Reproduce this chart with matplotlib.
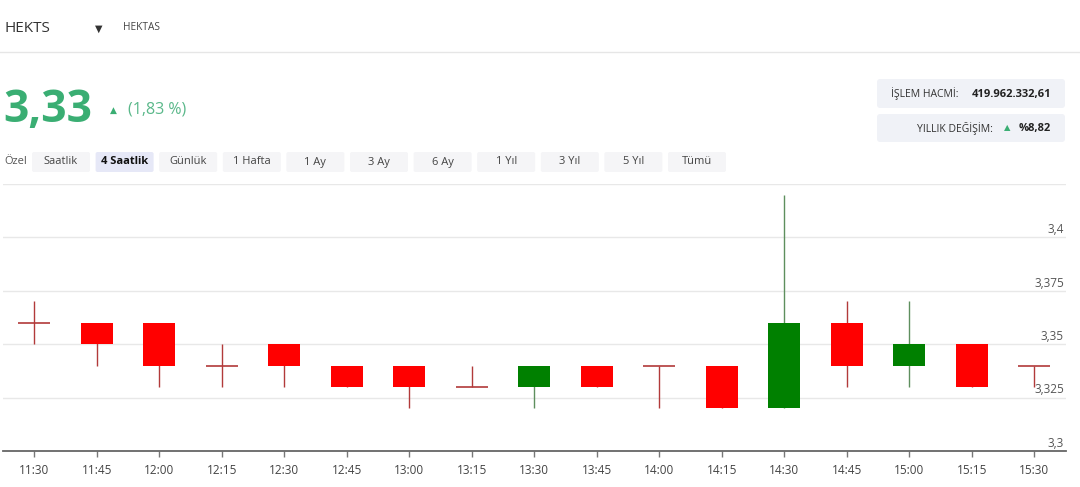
import matplotlib
matplotlib.use("Agg")
import matplotlib.pyplot as plt
from matplotlib.patches import FancyBboxPatch

# ---------------- data ----------------
times = ["11:30", "11:45", "12:00", "12:15", "12:30", "12:45", "13:00", "13:15", "13:30",
         "13:45", "14:00", "14:15", "14:30", "14:45", "15:00", "15:15", "15:30"]
opens = [3.36, 3.36, 3.36, 3.34, 3.35, 3.34, 3.34, 3.33, 3.33,
         3.34, 3.34, 3.34, 3.32, 3.36, 3.34, 3.35, 3.34]
highs = [3.37, 3.36, 3.36, 3.35, 3.35, 3.34, 3.34, 3.34, 3.34,
         3.34, 3.34, 3.34, 3.42, 3.37, 3.37, 3.35, 3.34]
lows = [3.35, 3.34, 3.33, 3.33, 3.33, 3.33, 3.32, 3.33, 3.32,
        3.33, 3.32, 3.32, 3.32, 3.33, 3.33, 3.33, 3.33]
closes = [3.36, 3.35, 3.34, 3.34, 3.34, 3.33, 3.33, 3.33, 3.34,
          3.33, 3.34, 3.32, 3.36, 3.34, 3.35, 3.33, 3.34]
y_ticks = [3.3, 3.325, 3.35, 3.375, 3.4]
y_tick_labels = ["3,3", "3,325", "3,35", "3,375", "3,4"]
buttons = ["Saatlik", "4 Saatlik", "Günlük", "1 Hafta", "1 Ay", "3 Ay", "6 Ay",
           "1 Yıl", "3 Yıl", "5 Yıl", "Tümü"]
active_button = "4 Saatlik"
symbol = "HEKTS"
name = "HEKTAS"
price_text = "3,33"
change_text = "(1,83 %)"
volume_label, volume_value = "İŞLEM HACMİ:", "419.962.332,61"
yearly_label, yearly_value = "YILLIK DEĞİŞİM:", "%8,82"

# ---------------- figure ----------------
W, H = 1080, 487
fig = plt.figure(figsize=(W / 100, H / 100), dpi=100)
fig.patch.set_facecolor("white")
FONT = ["Open Sans", "DejaVu Sans"]
GREEN_TXT = "#3aae73"

bg = fig.add_axes([0, 0, 1, 1], zorder=0)
bg.set_xlim(0, W)
bg.set_ylim(H, 0)
bg.axis("off")

# header
bg.text(5, 28, symbol, fontsize=11, color="#333333", va="center", ha="left", family=FONT)
bg.text(99, 29, "▼", fontsize=7, color="#333333", va="center", ha="center", family="DejaVu Sans")
bg.text(123, 28, name, fontsize=7.3, color="#444444", va="center", ha="left", family=FONT)
bg.plot([0, W], [52, 52], color="#e6e6e6", lw=1)

# price
bg.text(3, 110, price_text, fontsize=32, fontweight="bold", color=GREEN_TXT, va="center",
        ha="left", family=FONT)
bg.text(113, 110, "▲", fontsize=6.5, color=GREEN_TXT, va="center", ha="center", family="DejaVu Sans")
bg.text(128, 110, change_text, fontsize=11.5, color="#5ab88a", va="center", ha="left", family=FONT)

# right info boxes
for (y0, y1) in [(79, 108), (114, 142)]:
    bg.add_patch(FancyBboxPatch((877, y0), 188, y1 - y0, boxstyle="round,pad=0,rounding_size=3",
                                fc="#f0f2f7", ec="none"))
bg.text(891, 94, volume_label, fontsize=7.5, color="#333333", va="center", ha="left", family=FONT)
bg.text(1051, 94, volume_value, fontsize=8, fontweight="bold", color="#222222", va="center",
        ha="right", family=FONT)
bg.text(993, 128.5, yearly_label, fontsize=7.5, color="#333333", va="center", ha="right", family=FONT)
bg.text(1007, 128, "▲", fontsize=6, color=GREEN_TXT, va="center", ha="center", family="DejaVu Sans")
bg.text(1051, 128.5, yearly_value, fontsize=8, fontweight="bold", color="#222222", va="center",
        ha="right", family=FONT)

# period buttons
bg.text(4, 162, "Özel", fontsize=8, color="#555555", va="center", ha="left", family=FONT)
x0, step, bw = 32, 63.6, 58
for i, lab in enumerate(buttons):
    bx = x0 + i * step
    active = lab == active_button
    bg.add_patch(FancyBboxPatch((bx, 152), bw, 20, boxstyle="round,pad=0,rounding_size=2",
                                fc="#e6e8f7" if active else "#f5f5f7", ec="none"))
    bg.text(bx + bw / 2, 162, lab, fontsize=8, color="#111111" if active else "#444444",
            fontweight="bold" if active else "normal", va="center", ha="center", family=FONT)

# ---------------- candlestick chart ----------------
left, right, top, bottom = 3, 1065.5, 184, 451
ax = fig.add_axes([left / W, 1 - bottom / H, (right - left) / W, (bottom - top) / H], zorder=1)
ax.patch.set_alpha(0)

RED, RED_WICK = "#ff0000", "#b23a3a"
GRN, GRN_WICK = "#008000", "#5e8f5e"
body_w = 0.51
xs = list(range(len(times)))
for x, o, h, l, c in zip(xs, opens, highs, lows, closes):
    up = c > o
    wick = GRN_WICK if up else RED_WICK
    if h > l:
        ax.vlines(x, l, h, color=wick, lw=1.0, zorder=2)
    if abs(c - o) < 1e-9:
        ax.hlines(o, x - body_w / 2, x + body_w / 2, color=wick, lw=1.2, zorder=3)
    else:
        ax.bar(x, abs(c - o), bottom=min(o, c), width=body_w, color=GRN if up else RED,
               edgecolor="none", zorder=3)

ax.set_xlim(-0.5, len(times) - 0.5)
ax.set_ylim(3.3, 3.425)
ax.set_yticks(y_ticks + [3.425])
ax.yaxis.grid(True, color="#e8e8e8", lw=1)
ax.tick_params(axis="y", length=0, labelleft=False)
for v, lab in zip(y_ticks, y_tick_labels):
    ax.text(0.9985, v + 0.0006, lab, transform=ax.get_yaxis_transform(), ha="right", va="bottom",
            fontsize=8.5, color="#555555", family=FONT)

ax.set_xticks(xs)
ax.set_xticklabels(times, fontsize=8.5, color="#444444", family=FONT)
ax.tick_params(axis="x", length=4.5, width=1, color="#777777", pad=5)
for s in ["left", "right", "top"]:
    ax.spines[s].set_visible(False)
ax.spines["bottom"].set_color("#666666")
ax.spines["bottom"].set_linewidth(1.3)
ax.set_axisbelow(True)

fig.savefig("out.png", dpi=100, facecolor="white")
